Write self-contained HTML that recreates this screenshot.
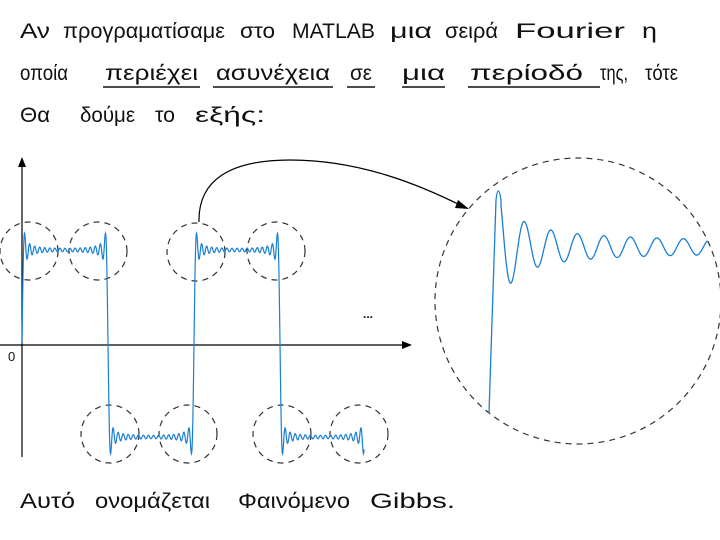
<!DOCTYPE html>
<html><head><meta charset="utf-8"><style>
html,body{margin:0;padding:0;background:#fff;width:720px;height:540px;overflow:hidden}
svg{display:block}
text{font-family:"Liberation Sans","DejaVu Sans",sans-serif;font-size:21px;fill:#111;font-weight:normal}
</style></head><body>
<svg id="s" width="720" height="540" viewBox="0 0 720 540" xmlns="http://www.w3.org/2000/svg">
<g>
<text x="20" y="38" textLength="30" lengthAdjust="spacingAndGlyphs">Αν</text>
<text x="63" y="38" textLength="162" lengthAdjust="spacingAndGlyphs">προγραματίσαμε</text>
<text x="240" y="38" textLength="35" lengthAdjust="spacingAndGlyphs">στο</text>
<text x="292" y="38" textLength="83" lengthAdjust="spacingAndGlyphs">MATLAB</text>
<text x="390" y="38" textLength="42" lengthAdjust="spacingAndGlyphs">μια</text>
<text x="445" y="38" textLength="53" lengthAdjust="spacingAndGlyphs">σειρά</text>
<text x="515" y="38" textLength="110" lengthAdjust="spacingAndGlyphs">Fourier</text>
<text x="642" y="38" textLength="15" lengthAdjust="spacingAndGlyphs">η</text>

<text x="20" y="80" textLength="48" lengthAdjust="spacingAndGlyphs">οποία</text>
<text x="105" y="80" textLength="93" lengthAdjust="spacingAndGlyphs">περιέχει</text>
<text x="216" y="80" textLength="114" lengthAdjust="spacingAndGlyphs">ασυνέχεια</text>
<text x="350" y="80" textLength="22" lengthAdjust="spacingAndGlyphs">σε</text>
<text x="402" y="80" textLength="43" lengthAdjust="spacingAndGlyphs">μια</text>
<text x="470" y="80" textLength="113" lengthAdjust="spacingAndGlyphs">περίοδό</text>
<text x="600" y="80" textLength="28" lengthAdjust="spacingAndGlyphs">της,</text>
<text x="645" y="80" textLength="33" lengthAdjust="spacingAndGlyphs">τότε</text>

<text x="20" y="122" textLength="30" lengthAdjust="spacingAndGlyphs">Θα</text>
<text x="80" y="122" textLength="55" lengthAdjust="spacingAndGlyphs">δούμε</text>
<text x="155" y="122" textLength="20" lengthAdjust="spacingAndGlyphs">το</text>
<text x="195" y="122" textLength="70" lengthAdjust="spacingAndGlyphs">εξής:</text>

<text x="20" y="508" textLength="55" lengthAdjust="spacingAndGlyphs">Αυτό</text>
<text x="95" y="508" textLength="115" lengthAdjust="spacingAndGlyphs">ονομάζεται</text>
<text x="238" y="508" textLength="112" lengthAdjust="spacingAndGlyphs">Φαινόμενο</text>
<text x="370" y="508" textLength="85" lengthAdjust="spacingAndGlyphs">Gibbs.</text>
</g>
<g stroke="#111" stroke-width="1.5" fill="none">
<line x1="103" y1="87" x2="200" y2="87"/>
<line x1="213" y1="87" x2="333" y2="87"/>
<line x1="347" y1="87" x2="375" y2="87"/>
<line x1="402" y1="87" x2="445" y2="87"/>
<line x1="468" y1="87" x2="600" y2="87"/>
</g>
<g stroke="#000" stroke-width="1.2" fill="none">
<line x1="22" y1="162" x2="22" y2="457"/>
<line x1="0" y1="345" x2="404" y2="345"/>
<path d="M199,222 C198,180 230,160 290,160 C360,160 420,185 462,206"/>
</g>
<polygon points="22,157 18,167 26,167" fill="#000"/>
<polygon points="412,345 402,341 402,349" fill="#000"/>
<polygon points="469,209 458,200 455,208" fill="#000"/>
<text x="8" y="361" style="font-size:13px">0</text>
<text x="363" y="318" style="font-size:12px;font-weight:bold">...</text>
<g stroke="#333" stroke-width="1.2" fill="none" stroke-dasharray="6,5">
<circle cx="29" cy="251" r="29"/>
<circle cx="98" cy="251" r="29"/>
<circle cx="196" cy="252" r="29"/>
<circle cx="276" cy="251" r="29"/>
<circle cx="110" cy="434" r="29"/>
<circle cx="188" cy="434" r="29"/>
<circle cx="282" cy="434" r="29"/>
<circle cx="359" cy="434" r="29"/>
<circle cx="578" cy="301" r="143"/>
</g>
<path id="w1" stroke="#1a7fd4" stroke-width="1.2" fill="none"/>
<path id="w2" stroke="#1a7fd4" stroke-width="1.3" fill="none"/>
</svg>
<script>
(function(){
var d="",mid=343.5,A=93.5,P=172,N=17;
for(var x=22;x<=364;x+=0.25){
 var s=0;for(var k=1;k<=N;k++){var n=2*k-1;s+=Math.sin(n*2*Math.PI*(x-22)/P)/n;}
 var y=mid-A*4/Math.PI*s;
 d+=(d?"L":"M")+x.toFixed(2)+","+y.toFixed(2);
}
document.getElementById("w1").setAttribute("d",d);
var e="M489,413 L496,200 Q498,182 501,200";
for(var x=501;x<=707;x+=0.5){
 var t=x-498;
 var amp=62/(1+t/14)+4;
 var y=247-amp*Math.cos(2*Math.PI*t/26.5);
 e+="L"+x.toFixed(2)+","+y.toFixed(2);
}
document.getElementById("w2").setAttribute("d",e);
})();
</script>
</body></html>
